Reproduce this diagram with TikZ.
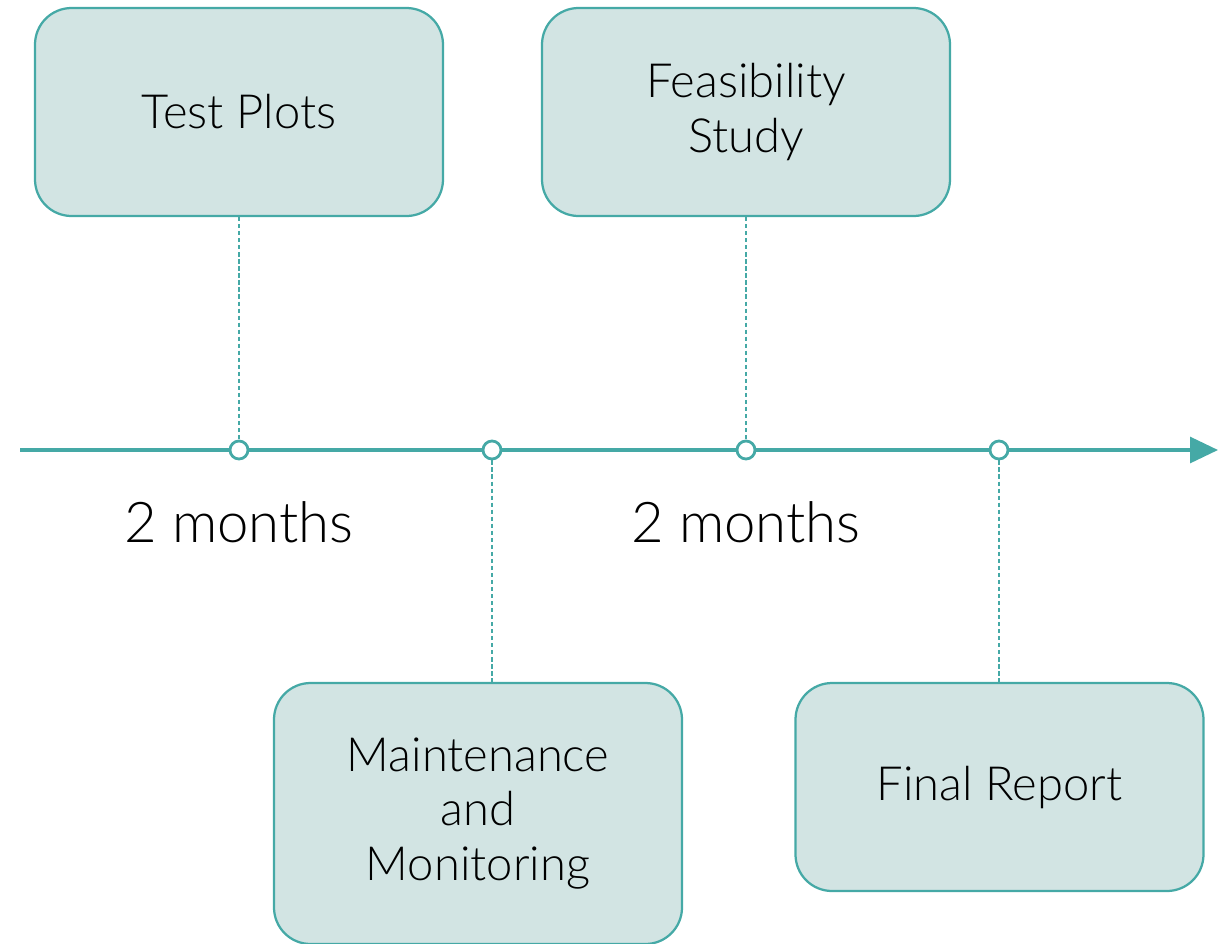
\documentclass[tikz,border=0pt]{standalone}
\usepackage{fontspec}
\setmainfont{Lato Light}
\usetikzlibrary{arrows.meta}
\definecolor{teal1}{HTML}{45A9A6}
\definecolor{boxfill}{HTML}{D2E4E3}
\tikzset{
  event/.style={draw=teal1, fill=boxfill, line width=1.6pt, rounded corners=26pt,
    minimum width=408*0.025cm, minimum height=208*0.025cm, align=center,
    font=\fontsize{33.5}{39}\selectfont, text=black, inner sep=0pt},
  tall/.style={minimum height=261*0.025cm},
  mark node/.style={circle, draw=teal1, fill=white, line width=2pt, minimum size=18*0.025cm, inner sep=0pt},
  connect/.style={draw=teal1, line width=0.8pt, dash pattern=on 3pt off 2pt},
  dur/.style={font=\fontsize{40}{46}\selectfont, text=black}
}
\begin{document}
\begin{tikzpicture}[x=0.025cm, y=-0.025cm]
\useasboundingbox (0,0) rectangle (1225,943);
\begin{scope}
\clip (0,0) rectangle (1225,943);
\coordinate (start) at (20,450);
\coordinate (end) at (1218,450);
\draw[teal1, line width=2.2pt, -{Triangle[length=28*0.025cm, width=26*0.025cm]}] (start) -- (end);
\node[event] (tp) at (239,112) {Test Plots};
\node[event] (fs) at (746,112) {Feasibility\\Study};
\node[event, tall] (mm) at (478,813.5) {Maintenance\\and\\Monitoring};
\node[event] (fr) at (999.5,787) {Final Report};
\node[mark node] (m1) at (239,450) {};
\node[mark node] (m2) at (492,450) {};
\node[mark node] (m3) at (746,450) {};
\node[mark node] (m4) at (999,450) {};
\draw[connect] (tp.south -| m1) -- (m1);
\draw[connect] (fs.south -| m3) -- (m3);
\draw[connect] (m2) -- (m2 |- mm.north);
\draw[connect] (m4) -- (m4 |- fr.north);
\node[dur] (d1) at (239,522) {2 months};
\node[dur] (d2) at (746,522) {2 months};
\end{scope}
\end{tikzpicture}
\end{document}
